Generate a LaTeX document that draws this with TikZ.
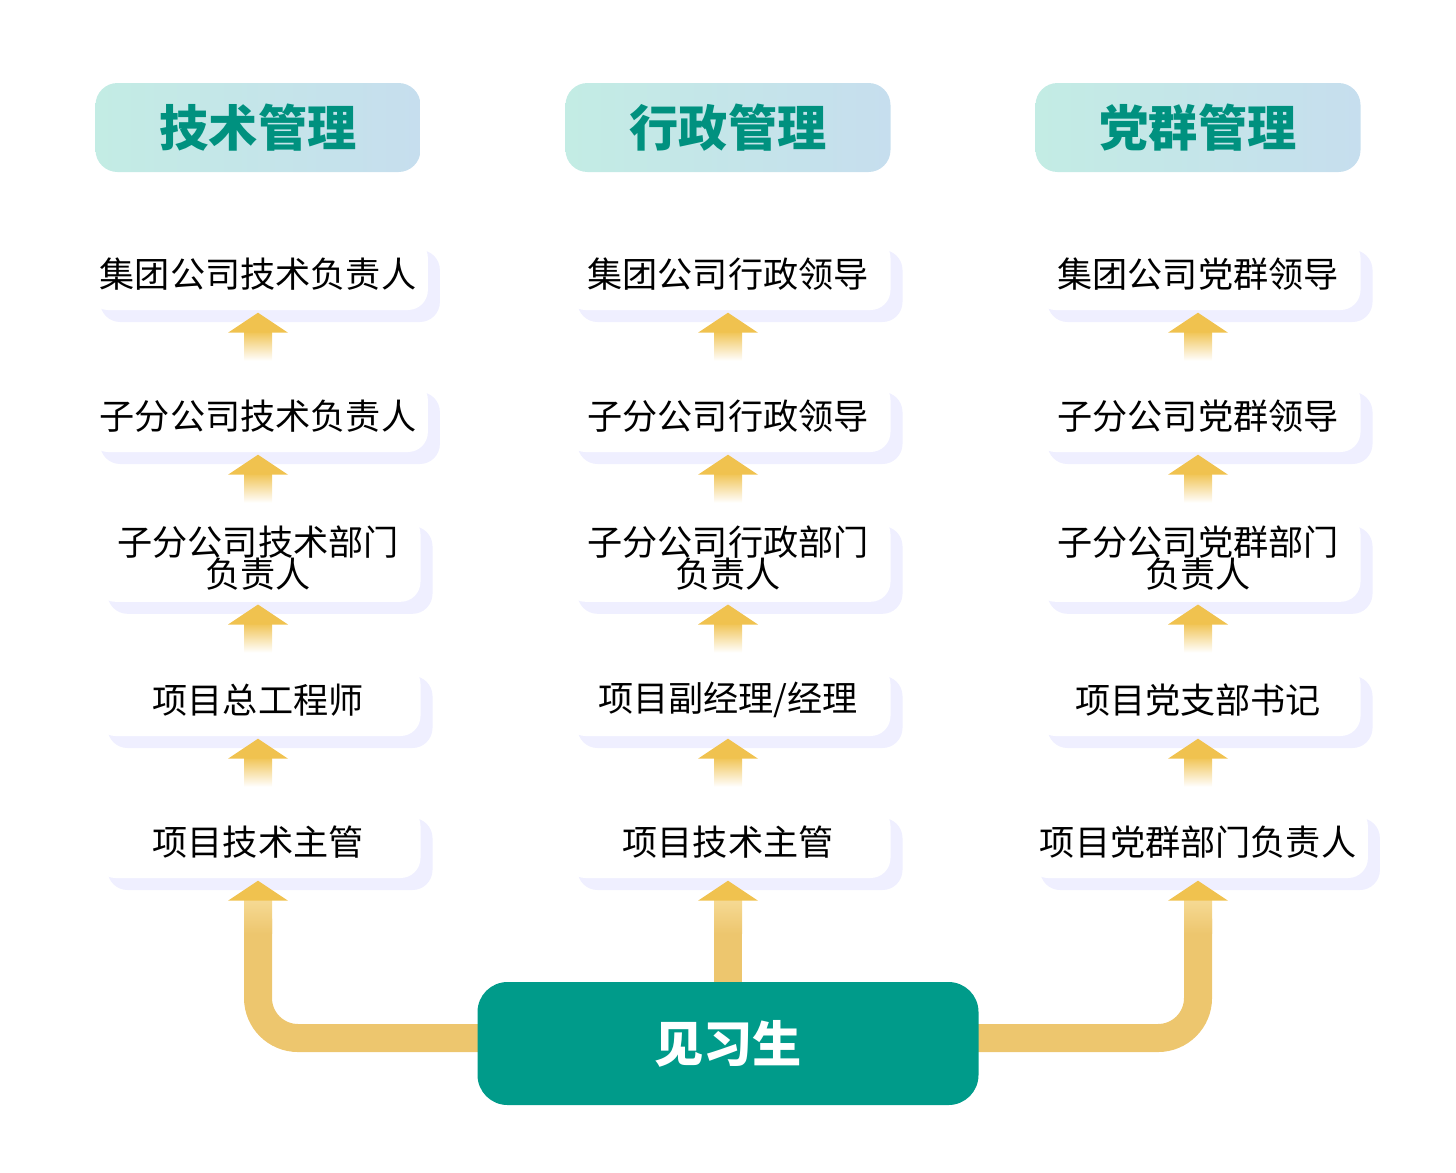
\documentclass[tikz,border=0pt]{standalone}
\usepackage{fontspec}
\setmainfont{Noto Sans CJK SC}
\usetikzlibrary{calc,shadows,backgrounds}
\definecolor{headtext}{HTML}{00917F}
\definecolor{headleft}{HTML}{C3ECE4}
\definecolor{headright}{HTML}{C6DEEE}
\definecolor{interngreen}{HTML}{009B8A}
\definecolor{goldline}{HTML}{EDC66E}
\definecolor{goldhead}{HTML}{F0C24F}
\begin{document}
\begin{tikzpicture}[
    header/.style={rounded corners=0.22cm, minimum width=3.25cm, minimum height=0.89cm,
      left color=headleft, right color=headright, text=headtext,
      font=\fontsize{14}{16}\selectfont\bfseries},
    post/.style={rounded corners=0.2cm, minimum width=3.25cm, minimum height=0.72cm,
      fill=white, align=center, font=\fontsize{10}{11}\selectfont,
      drop shadow={shadow xshift=0.12cm, shadow yshift=-0.12cm, fill=blue!25, opacity=0.25}},
    intern/.style={rounded corners=0.3cm, minimum width=5.01cm, minimum height=1.23cm,
      fill=interngreen, text=white, font=\fontsize{14}{16}\selectfont\bfseries}
  ]
  \useasboundingbox (0,0) rectangle (14.56,-11.72);

  % column headers
  \node[header] (techhead)  at (2.58,-1.275) {技术管理};
  \node[header] (adminhead) at (7.28,-1.275) {行政管理};
  \node[header] (partyhead) at (11.98,-1.275) {党群管理};

  % ladder of posts
  \node[post] (tech1) at (2.58,-2.74) {集团公司技术负责人};
  \node[post] (tech2) at (2.58,-4.16) {子分公司技术负责人};
  \node[post] (tech3) at (2.58,-5.58) {子分公司技术部门\\[-2pt]负责人};
  \node[post] (tech4) at (2.58,-7.00) {项目总工程师};
  \node[post] (tech5) at (2.58,-8.42) {项目技术主管};

  \node[post] (admin1) at (7.28,-2.74) {集团公司行政领导};
  \node[post] (admin2) at (7.28,-4.16) {子分公司行政领导};
  \node[post] (admin3) at (7.28,-5.58) {子分公司行政部门\\[-2pt]负责人};
  \node[post] (admin4) at (7.28,-7.00) {项目副经理/经理};
  \node[post] (admin5) at (7.28,-8.42) {项目技术主管};

  \node[post] (party1) at (11.98,-2.74) {集团公司党群领导};
  \node[post] (party2) at (11.98,-4.16) {子分公司党群领导};
  \node[post] (party3) at (11.98,-5.58) {子分公司党群部门\\[-2pt]负责人};
  \node[post] (party4) at (11.98,-7.00) {项目党支部书记};
  \node[post] (party5) at (11.98,-8.42) {项目党群部门负责人};

  % small step arrows
  \foreach \col in {tech,admin,party}{
    \foreach \i [evaluate=\i as \j using int(\i+1)] in {1,2,3,4}{
      \shade[top color=goldhead, bottom color=white]
        ($(\col\i.south)+(-0.14,-0.2)$) rectangle ($(\col\i.south)+(0.14,-0.5)$);
      \fill[goldhead] ($(\col\i.south)+(0,-0.02)$) -- ($(\col\i.south)+(0.3,-0.22)$)
        -- ($(\col\i.south)+(-0.3,-0.22)$) -- cycle;
    }
  }

  % entry point
  \node[intern] (start) at (7.28,-10.435) {见习生};

  \begin{scope}[on background layer]
    \draw[goldline, line width=0.28cm, rounded corners=0.4cm]
      ($(start.west)+(0.2,0.055)$) -| ($(tech5.south)+(0,-0.4)$);
    \draw[goldline, line width=0.28cm, rounded corners=0.4cm]
      ($(start.east)+(-0.2,0.055)$) -| ($(party5.south)+(0,-0.4)$);
    \draw[goldline, line width=0.28cm]
      ($(start.north)+(0,-0.1)$) -- ($(admin5.south)+(0,-0.4)$);
  \end{scope}
  \foreach \col in {tech,admin,party}{
    \shade[top color=goldhead!60, bottom color=goldline]
      ($(\col5.south)+(-0.14,-0.2)$) rectangle ($(\col5.south)+(0.14,-0.55)$);
    \fill[goldhead] ($(\col5.south)+(0,-0.02)$) -- ($(\col5.south)+(0.3,-0.22)$)
      -- ($(\col5.south)+(-0.3,-0.22)$) -- cycle;
  }

\end{tikzpicture}
\end{document}
